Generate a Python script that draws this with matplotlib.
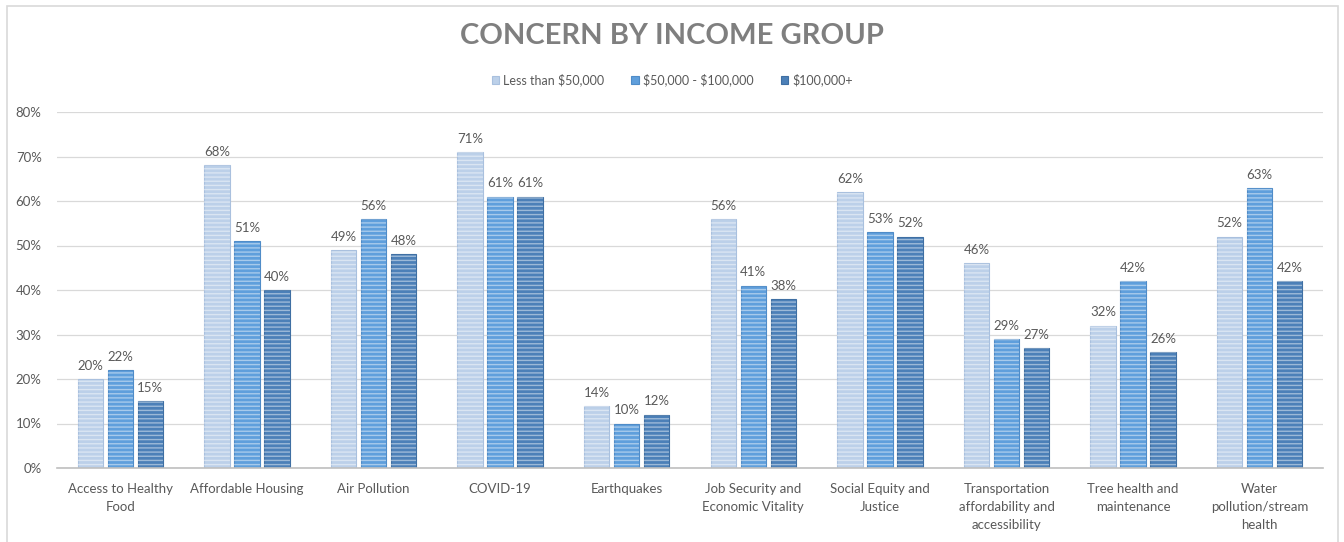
import numpy as np
import matplotlib
matplotlib.use('Agg')
import matplotlib.pyplot as plt
from matplotlib.patches import Rectangle
from matplotlib.ticker import MultipleLocator, PercentFormatter

plt.rcParams['font.family'] = ['Lato', 'DejaVu Sans']
plt.rcParams['hatch.linewidth'] = 1.0

categories = ['Access to Healthy\nFood', 'Affordable Housing', 'Air Pollution', 'COVID-19',
              'Earthquakes', 'Job Security and\nEconomic Vitality', 'Social Equity and\nJustice',
              'Transportation\naffordability and\naccessibility', 'Tree health and\nmaintenance',
              'Water\npollution/stream\nhealth']
groups = ['Less than \\$50,000', '\\$50,000 - \\$100,000', '\\$100,000+']
under_50k = [20, 68, 49, 71, 14, 56, 62, 46, 32, 52]
mid_50_100k = [22, 51, 56, 61, 10, 41, 53, 29, 42, 63]
over_100k = [15, 40, 48, 61, 12, 38, 52, 27, 26, 42]

colors = ['#bcd0e9', '#5f9fdc', '#4c80b8']
edges = ['#a9c0de', '#4f8cc8', '#3f6fa3']
grey = '#595959'

fig = plt.figure(figsize=(13.44, 5.42), dpi=100)
ax = fig.add_axes([57 / 1344, 1 - 468 / 542, (1323 - 57) / 1344, (468 - 112) / 542])

x = np.arange(len(categories))
width = 0.2
step = 0.237
series = [under_50k, mid_50_100k, over_100k]
for i, vals in enumerate(series):
    pos = x + (i - 1) * step
    ax.bar(pos, vals, width, color=colors[i], edgecolor=edges[i], linewidth=0.8,
           label=groups[i], zorder=2)
    # horizontal stripe fill
    ax.bar(pos, vals, width, facecolor='none', edgecolor=(1, 1, 1, 0.45), hatch='----',
           linewidth=0, zorder=3)
    for p, v in zip(pos, vals):
        ax.text(p, v + 1.6, f'{v}%', ha='center', va='bottom', fontsize=9.5, color=grey)

ax.set_ylim(0, 80)
ax.set_xlim(-0.5, len(categories) - 0.5)
ax.yaxis.set_major_locator(MultipleLocator(10))
ax.yaxis.set_major_formatter(PercentFormatter(decimals=0))
ax.grid(axis='y', color='#d9d9d9', linewidth=0.9, zorder=0)
ax.set_axisbelow(True)
for s in ['top', 'right', 'left']:
    ax.spines[s].set_visible(False)
ax.spines['bottom'].set_color('#bfbfbf')
ax.spines['bottom'].set_linewidth(1.2)
ax.tick_params(axis='both', length=0, labelsize=9.5, labelcolor=grey)
ax.tick_params(axis='y', pad=11)
ax.tick_params(axis='x', pad=11)
ax.set_xticks(x)
ax.set_xticklabels(categories, linespacing=1.6)

fig.text(0.5, 1 - 36 / 542, 'CONCERN BY INCOME GROUP', ha='center', va='center',
         fontsize=21, fontweight='bold', color='#7f7f7f')
fig.legend(loc='center', bbox_to_anchor=(0.5, 1 - 80 / 542), ncol=3, frameon=False,
           fontsize=9, labelcolor=grey, handlelength=0.6, handleheight=0.6,
           handletextpad=0.3, columnspacing=2.2)

# chart frame
fig.patches.append(Rectangle((7 / 1344, -0.05), (1338 - 7) / 1344, 1.05 - 6 / 542,
                             transform=fig.transFigure, fill=False,
                             edgecolor='#d9d9d9', linewidth=1.2))

fig.savefig('out.png', dpi=100)
